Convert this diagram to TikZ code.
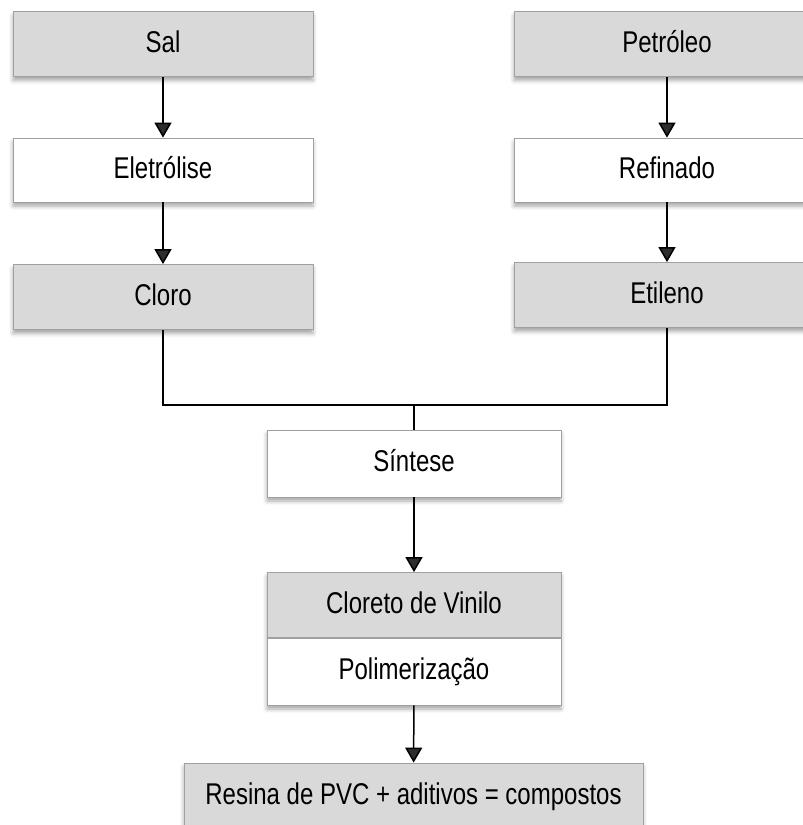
\documentclass[tikz,border=0pt]{standalone}
\usepackage{fontspec}
\setmainfont[FakeStretch=0.8]{Liberation Sans}
\usetikzlibrary{arrows.meta,shadows.blur}
\definecolor{boxgray}{HTML}{D9D9D9}
\definecolor{edgegray}{HTML}{A0A0A0}
\begin{document}
\begin{tikzpicture}[x=1pt,y=-1pt,
  plain/.style={draw=edgegray,line width=0.8pt,minimum height=65pt,inner sep=0pt,
    font=\fontsize{30}{35}\selectfont,text=black,text height=21pt,text depth=5pt},
  shad/.style={blur shadow={shadow xshift=0pt,shadow yshift=-4pt,shadow blur radius=4pt,shadow opacity=35}},
  graybox/.style={plain,shad,fill=boxgray},
  whitebox/.style={plain,shad,fill=white},
  arr/.style={line width=1.5pt,-{Triangle[width=17pt,length=15pt]}},
  conn/.style={line width=1.5pt}]
\useasboundingbox (0,0) rectangle (803,825);
\node[graybox,minimum width=300pt] (sal) at (163,44) {Sal};
\node[whitebox,minimum width=300pt,minimum height=64pt] (elet) at (163,170) {Eletrólise};
\node[graybox,minimum width=300pt] (cloro) at (163,297) {Cloro};
\node[graybox,minimum width=306pt] (petr) at (667,44) {Petróleo};
\node[whitebox,minimum width=306pt,minimum height=64pt] (ref) at (667,170) {Refinado};
\node[graybox,minimum width=306pt] (etil) at (667,295) {Etileno};
\node[whitebox,minimum width=294pt,minimum height=67pt] (sint) at (414,463.5) {Síntese};
\fill[white,shad] (267,572) rectangle (561,705);
\node[plain,fill=boxgray,minimum width=294pt] (vinil) at (414,605) {Cloreto de Vinilo};
\node[plain,fill=white,minimum width=294pt,minimum height=67pt] (poli) at (414,671.5) {Polimerização};
\node[graybox,minimum width=459pt,minimum height=66pt] (resina) at (413.5,796) {Resina de PVC + aditivos = compostos};
\coordinate (join) at (414,405);
\draw[arr] (sal) -- (elet);
\draw[arr] (elet) -- (cloro);
\draw[arr] (petr) -- (ref);
\draw[arr] (ref) -- (etil);
\draw[conn] (cloro.south) |- (join) -| (etil.south);
\draw[conn] (join) -- (sint.north);
\draw[arr] (sint) -- (vinil);
\draw[arr] (poli) -- (resina);
\end{tikzpicture}
\end{document}
